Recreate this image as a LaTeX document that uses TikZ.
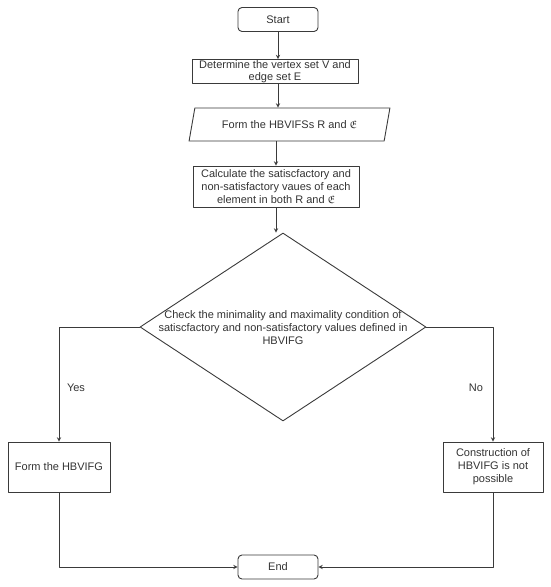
\documentclass[tikz,border=0pt]{standalone}
\usepackage{amssymb}
\usepackage{fontspec}
\setmainfont{Liberation Sans}
\usetikzlibrary{shapes.geometric}
\definecolor{linegray}{HTML}{3A3A3A}
\definecolor{txtgray}{HTML}{333333}

\begin{document}
\begin{tikzpicture}[x=1pt,y=1pt,font=\fontsize{11}{13}\selectfont,line join=round,>=stealth,
	box/.style={draw=linegray,line width=0.9pt,inner sep=0pt,align=center,text=txtgray},
	term/.style={box,rounded corners=4pt,minimum width=80,minimum height=24},
	flow/.style={draw=linegray,line width=0.9pt,->}]
			\useasboundingbox (0,0) rectangle (550,-587);
			\node[term] (start) at (278,-19.5) {Start};
			\node[box,minimum width=166,minimum height=24,font=\fontsize{11}{12}\selectfont] (vset) at (275,-71.5) {Determine the vertex set V and\\edge set E};
			\node[box,trapezium,trapezium left angle=63,trapezium right angle=117,trapezium stretches=true,
				minimum width=201,minimum height=33] (hbvifs) at (289.5,-124.5) {Form the HBVIFSs R and $\mathfrak{E}$};
			\node[box,minimum width=166,minimum height=41] (calc) at (276,-186.5) {Calculate the satiscfactory and\\non-satisfactory vaues of each\\element in both R and $\mathfrak{E}$};
			\node[box,diamond,minimum width=286,minimum height=188] (check) at (283,-327) {};
			\node[align=center,text=txtgray,inner sep=0pt] (checktxt) at (283,-328) {Check the minimality and maximality condition of\\satiscfactory and non-satisfactory values defined in\\HBVIFG};
			\node[box,minimum width=102,minimum height=50] (form) at (59,-467) {Form the HBVIFG};
			\node[box,minimum width=100,minimum height=50] (notposs) at (493,-467) {Construction of\\HBVIFG is not\\possible};
			\node[term] (end) at (278,-567) {End};
			\node[text=txtgray] (yes) at (76,-388) {Yes};
			\node[text=txtgray] (no) at (476,-388) {No};
			% connectors
			\draw[flow] (start) -- (start |- vset.north);
			\draw[flow] (vset.south -| start) -- (start |- hbvifs.north);
			\draw[flow] (hbvifs.south -| calc) -- (calc.north);
			\draw[flow] (calc) -- (calc |- check.north);
			\draw[flow] (check.west) -| (form.north);
			\draw[flow] (check.east) -| (notposs.north);
			\draw[flow] (form.south) |- (end.west);
			\draw[flow] (notposs.south) |- (end.east);
		\end{tikzpicture}
\end{document}
